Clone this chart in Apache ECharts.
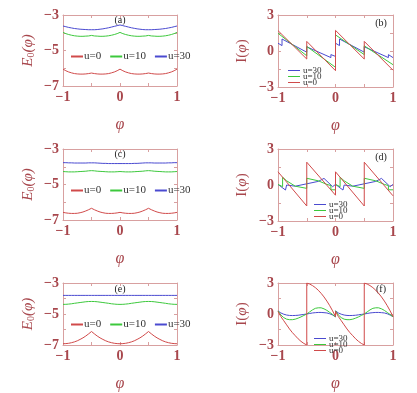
<!DOCTYPE html>
<html>
<head>
<meta charset="utf-8">
<script src="https://cdn.jsdelivr.net/npm/echarts@6/dist/echarts.min.js"></script>
<style>
html,body{margin:0;padding:0;background:#fff}
#main{width:417px;height:393px}
</style>
</head>
<body>
<div id="main"></div>
<script>
// phi grid for the energy panels
var phi = [-1,-0.95,-0.9,-0.85,-0.8,-0.75,-0.7,-0.65,-0.6,-0.55,-0.5,-0.45,-0.4,-0.35,-0.3,-0.25,-0.2,-0.15,-0.1,-0.05,0,
           0.05,0.1,0.15,0.2,0.25,0.3,0.35,0.4,0.45,0.5,0.55,0.6,0.65,0.7,0.75,0.8,0.85,0.9,0.95,1];

// (a) ground state energy
var aU0  = [-6.05,-6.14,-6.21,-6.26,-6.30,-6.32,-6.33,-6.33,-6.32,-6.30,-6.27,-6.30,-6.32,-6.33,-6.33,-6.32,-6.30,-6.26,-6.21,-6.14,-6.05,
            -6.14,-6.21,-6.26,-6.30,-6.32,-6.33,-6.33,-6.32,-6.30,-6.27,-6.30,-6.32,-6.33,-6.33,-6.32,-6.30,-6.26,-6.21,-6.14,-6.05];
var aU10 = [-3.98,-4.05,-4.10,-4.14,-4.17,-4.19,-4.20,-4.20,-4.19,-4.18,-4.15,-4.18,-4.19,-4.20,-4.20,-4.19,-4.17,-4.14,-4.10,-4.05,-3.98,
            -4.05,-4.10,-4.14,-4.17,-4.19,-4.20,-4.20,-4.19,-4.18,-4.15,-4.18,-4.19,-4.20,-4.20,-4.19,-4.17,-4.14,-4.10,-4.05,-3.98];
var aU30 = [-3.62,-3.66,-3.70,-3.73,-3.76,-3.78,-3.80,-3.81,-3.82,-3.83,-3.83,-3.83,-3.82,-3.80,-3.78,-3.75,-3.72,-3.68,-3.64,-3.60,-3.56,
            -3.60,-3.64,-3.68,-3.72,-3.75,-3.78,-3.80,-3.82,-3.83,-3.83,-3.83,-3.82,-3.81,-3.80,-3.78,-3.76,-3.73,-3.70,-3.66,-3.62];
// (c)
var cU0  = [-6.57,-6.60,-6.62,-6.63,-6.63,-6.62,-6.59,-6.55,-6.49,-6.42,-6.34,-6.42,-6.49,-6.55,-6.59,-6.62,-6.63,-6.63,-6.62,-6.60,-6.57,
            -6.60,-6.62,-6.63,-6.63,-6.62,-6.59,-6.55,-6.49,-6.42,-6.34,-6.42,-6.49,-6.55,-6.59,-6.62,-6.63,-6.63,-6.62,-6.60,-6.57];
var cU10 = [-4.27,-4.28,-4.29,-4.29,-4.29,-4.28,-4.27,-4.26,-4.25,-4.23,-4.22,-4.23,-4.25,-4.26,-4.27,-4.28,-4.29,-4.29,-4.29,-4.28,-4.27,
            -4.28,-4.29,-4.29,-4.29,-4.28,-4.27,-4.26,-4.25,-4.23,-4.22,-4.23,-4.25,-4.26,-4.27,-4.28,-4.29,-4.29,-4.29,-4.28,-4.27];
var cU30 = [-3.77,-3.77,-3.78,-3.78,-3.79,-3.79,-3.79,-3.79,-3.79,-3.78,-3.78,-3.78,-3.79,-3.80,-3.81,-3.81,-3.82,-3.82,-3.82,-3.82,-3.82,
            -3.82,-3.82,-3.82,-3.82,-3.81,-3.81,-3.80,-3.79,-3.78,-3.78,-3.78,-3.79,-3.79,-3.79,-3.79,-3.79,-3.78,-3.78,-3.77,-3.77];
// (e)
var eU0  = [-6.92,-6.91,-6.89,-6.85,-6.80,-6.73,-6.64,-6.54,-6.42,-6.28,-6.13,-6.28,-6.42,-6.54,-6.64,-6.73,-6.80,-6.85,-6.89,-6.91,-6.92,
            -6.91,-6.89,-6.85,-6.80,-6.73,-6.64,-6.54,-6.42,-6.28,-6.13,-6.28,-6.42,-6.54,-6.64,-6.73,-6.80,-6.85,-6.89,-6.91,-6.92];
var eU10 = [-4.38,-4.375,-4.36,-4.34,-4.31,-4.285,-4.26,-4.235,-4.21,-4.195,-4.19,-4.195,-4.21,-4.235,-4.26,-4.285,-4.31,-4.34,-4.36,-4.375,-4.38,
            -4.375,-4.36,-4.34,-4.31,-4.285,-4.26,-4.235,-4.21,-4.195,-4.19,-4.195,-4.21,-4.235,-4.26,-4.285,-4.31,-4.34,-4.36,-4.375,-4.38];
var eU30 = [-3.80,-3.80,-3.80,-3.80,-3.80,-3.80,-3.80,-3.80,-3.80,-3.80,-3.80,-3.80,-3.80,-3.80,-3.80,-3.80,-3.80,-3.80,-3.80,-3.80,-3.80,
            -3.80,-3.80,-3.80,-3.80,-3.80,-3.80,-3.80,-3.80,-3.80,-3.80,-3.80,-3.80,-3.80,-3.80,-3.80,-3.80,-3.80,-3.80,-3.80,-3.80];

// current panels: [phi, I] points, repeated phi = jump
var bU0  = [[-1,1.7],[-0.5,-0.67],[-0.5,0.8],[0,-1.64],[0,1.72],[0.5,-0.67],[0.5,0.8],[1,-1.6]];
var bU10 = [[-1,1.48],[-0.5,-0.4],[-0.5,0.38],[0,-1.36],[0,1.34],[0.5,-0.3],[0.5,0.43],[1,-1.14]];
var bU30 = [[-1,0.65],[-0.93,0.45],[-0.93,1.0],[-0.5,-0.1],[-0.5,0.35],[-0.08,-0.55],[-0.08,-0.3],[0,-0.45],
            [0,0.65],[0.07,0.45],[0.07,1.0],[0.5,-0.1],[0.5,0.35],[0.92,-0.55],[0.92,-0.3],[1,-0.55]];

var dU0  = [[-1,1.1],[-0.5,-1.75],[-0.5,1.9],[0,-0.85],[0,1.1],[0.5,-1.75],[0.5,1.9],[1,-0.9]];
var dU10 = [[-1,0.05],[-0.92,-0.14],[-0.92,0.65],[-0.85,0.35],[-0.7,-0.1],[-0.5,-0.28],[-0.5,0.56],[-0.3,0.35],[-0.15,0.05],[-0.08,-0.05],[-0.08,-0.4],[0,-0.4],
            [0,0.05],[0.08,-0.14],[0.08,0.65],[0.15,0.35],[0.3,-0.1],[0.5,-0.28],[0.5,0.56],[0.7,0.35],[0.85,0.05],[0.92,-0.05],[0.92,-0.4],[1,-0.4]];
var dU30 = [[-1,0.05],[-0.87,-0.42],[-0.85,0.0],[-0.7,-0.1],[-0.5,0.1],[-0.3,0.3],[-0.2,0.55],[-0.05,-0.14],[0,0.05],
            [0.13,-0.42],[0.15,0.0],[0.3,-0.1],[0.5,0.1],[0.7,0.3],[0.8,0.55],[0.95,-0.14],[1,0.05]];

var fPhi = [-1,-0.95,-0.9,-0.85,-0.8,-0.75,-0.7,-0.65,-0.6,-0.55,-0.5,
            -0.5,-0.45,-0.4,-0.35,-0.3,-0.25,-0.2,-0.15,-0.1,-0.05,0,
            0,0.05,0.1,0.15,0.2,0.25,0.3,0.35,0.4,0.45,0.5,
            0.5,0.55,0.6,0.65,0.7,0.75,0.8,0.85,0.9,0.95,1];
var fU0  = [0.25,-0.25,-0.65,-1.05,-1.45,-1.8,-2.1,-2.4,-2.65,-2.85,-3.0,
            3.0,2.9,2.75,2.55,2.3,2.0,1.65,1.25,0.8,0.3,-0.25,
            0.25,-0.25,-0.65,-1.05,-1.45,-1.8,-2.1,-2.4,-2.65,-2.85,-3.0,
            3.0,2.9,2.75,2.55,2.3,2.0,1.65,1.25,0.8,0.3,-0.25];
var fU10 = [0.3,-0.1,-0.35,-0.5,-0.55,-0.55,-0.5,-0.4,-0.28,-0.14,0.0,
            0.0,0.2,0.4,0.55,0.6,0.6,0.5,0.35,0.15,-0.05,-0.27,
            0.3,-0.1,-0.35,-0.5,-0.55,-0.55,-0.5,-0.4,-0.28,-0.14,0.0,
            0.0,0.2,0.4,0.55,0.6,0.6,0.5,0.35,0.15,-0.05,-0.27];
var fU30 = [0.3,0.1,-0.02,-0.1,-0.14,-0.15,-0.14,-0.12,-0.08,-0.04,0.0,
            0.0,0.05,0.1,0.13,0.15,0.15,0.13,0.1,0.02,-0.1,-0.27,
            0.3,0.1,-0.02,-0.1,-0.14,-0.15,-0.14,-0.12,-0.08,-0.04,0.0,
            0.0,0.05,0.1,0.13,0.15,0.15,0.13,0.1,0.02,-0.1,-0.27];

var panelLabels = ['(a)','(b)','(c)','(d)','(e)','(f)'];

var RED = '#d04a4a', GREEN = '#3cc83c', BLUE = '#4a4ad0';
var TXT = '#a8474d', FRAME = '#d8a0a0';
var SERIF = 'Liberation Serif';

function zip(xs, ys) {
    return xs.map(function (x, k) { return [x, ys[k]]; });
}
function minus(v) {
    return String(v).replace('-', '\u2212');
}

var chart = echarts.init(document.getElementById('main'));

// 3 rows x 2 cols
var grids = [
    {left: 63,  top: 15,  width: 114, height: 71},
    {left: 278, top: 15,  width: 115, height: 72},
    {left: 63,  top: 149, width: 114, height: 71},
    {left: 278, top: 149, width: 115, height: 72},
    {left: 63,  top: 283, width: 114, height: 71},
    {left: 278, top: 283, width: 115, height: 71}
];

var xAxes = [], yAxes = [];
var lineSty = {show: true, onZero: false, lineStyle: {color: FRAME, width: 1}};
var tickSty = {show: true, inside: true, length: 3, lineStyle: {color: FRAME}};

for (var i = 0; i < 6; i++) {
    var energy = (i % 2 === 0);
    xAxes.push({
        type: 'value', gridIndex: i, min: -1, max: 1, interval: 0.5,
        axisLine: lineSty, axisTick: tickSty, splitLine: {show: false},
        axisLabel: {
            margin: 4, color: TXT, fontFamily: SERIF, fontWeight: 'bold', fontSize: 14,
            formatter: function (v) { return v % 1 === 0 ? minus(v) : ''; }
        },
        name: 'φ', nameLocation: 'middle', nameGap: 31,
        nameTextStyle: {color: TXT, fontFamily: SERIF, fontStyle: 'italic', fontSize: 16}
    });
    yAxes.push({
        type: 'value', gridIndex: i,
        min: energy ? -7 : -3, max: energy ? -3 : 3, interval: energy ? 1 : 1.5,
        axisLine: lineSty, axisTick: tickSty, splitLine: {show: false},
        axisLabel: {
            margin: 4, color: TXT, fontFamily: SERIF, fontWeight: 'bold', fontSize: 14,
            formatter: energy
                ? function (v) { return Math.abs(v) % 2 === 1 ? minus(v) : ''; }
                : function (v) { return v % 3 === 0 ? minus(v) : ''; }
        },
        name: energy ? '{i|E}{s|0}{i|(φ)}' : '{n|I(}{i|φ}{n|)}',
        nameLocation: 'middle', nameRotate: 90, nameGap: energy ? 27 : 28,
        nameTextStyle: {
            color: TXT,
            rich: {
                i: {fontFamily: SERIF, fontStyle: 'italic', fontSize: 15, color: TXT},
                n: {fontFamily: SERIF, fontSize: 15, color: TXT},
                s: {fontFamily: SERIF, fontSize: 10, color: TXT, padding: [6, 0, 0, 0]}
            }
        }
    });
}
// mirror axes on top / right for the closed frame
for (var j = 0; j < 6; j++) {
    xAxes.push({
        type: 'value', gridIndex: j, position: 'top', min: -1, max: 1, interval: 0.5,
        axisLine: lineSty, axisTick: tickSty, axisLabel: {show: false}, splitLine: {show: false}
    });
    yAxes.push({
        type: 'value', gridIndex: j, position: 'right',
        min: j % 2 === 0 ? -7 : -3, max: j % 2 === 0 ? -3 : 3, interval: j % 2 === 0 ? 1 : 1.5,
        axisLine: lineSty, axisTick: tickSty, axisLabel: {show: false}, splitLine: {show: false}
    });
}

function line(name, color, data, idx) {
    return {
        name: name, type: 'line', xAxisIndex: idx, yAxisIndex: idx,
        data: data, symbol: 'none', animation: false,
        lineStyle: {width: 1, color: color}, itemStyle: {color: color}
    };
}

var series = [
    line('u=0', RED, zip(phi, aU0), 0), line('u=10', GREEN, zip(phi, aU10), 0), line('u=30', BLUE, zip(phi, aU30), 0),
    line('u=30', BLUE, bU30, 1), line('u=10', GREEN, bU10, 1), line('u=0', RED, bU0, 1),
    line('u=0', RED, zip(phi, cU0), 2), line('u=10', GREEN, zip(phi, cU10), 2), line('u=30', BLUE, zip(phi, cU30), 2),
    line('u=30', BLUE, dU30, 3), line('u=10', GREEN, dU10, 3), line('u=0', RED, dU0, 3),
    line('u=0', RED, zip(phi, eU0), 4), line('u=10', GREEN, zip(phi, eU10), 4), line('u=30', BLUE, zip(phi, eU30), 4),
    line('u=30', BLUE, zip(fPhi, fU30), 5), line('u=10', GREEN, zip(fPhi, fU10), 5), line('u=0', RED, zip(fPhi, fU0), 5)
];

var legends = [];
[46, 180, 314].forEach(function (t) {
    legends.push({
        left: 66, top: t, icon: 'rect', itemWidth: 12, itemHeight: 2, itemGap: 9,
        textStyle: {fontFamily: SERIF, fontSize: 11, color: '#333', padding: [0, 0, 0, -4]},
        data: ['u=0', 'u=10', 'u=30']
    });
});
[[283, 61], [309, 195], [309, 329]].forEach(function (p) {
    legends.push({
        orient: 'vertical', left: p[0], top: p[1], icon: 'rect', itemWidth: 12, itemHeight: 1, itemGap: -3,
        textStyle: {fontFamily: SERIF, fontSize: 9, color: '#333', padding: [0, 0, 0, -2]},
        data: ['u=30', 'u=10', 'u=0']
    });
});

var labelPos = [[120, 20], [381, 23], [120, 154], [381, 157], [120, 289], [381, 289]];
var graphic = labelPos.map(function (p, k) {
    return {
        type: 'text', x: p[0], y: p[1],
        style: {text: panelLabels[k], fill: '#222', font: '10px "Liberation Serif"', align: 'center', verticalAlign: 'middle'}
    };
});

chart.setOption({
    animation: false,
    grid: grids,
    xAxis: xAxes,
    yAxis: yAxes,
    legend: legends,
    graphic: graphic,
    series: series
});
</script>
</body>
</html>
